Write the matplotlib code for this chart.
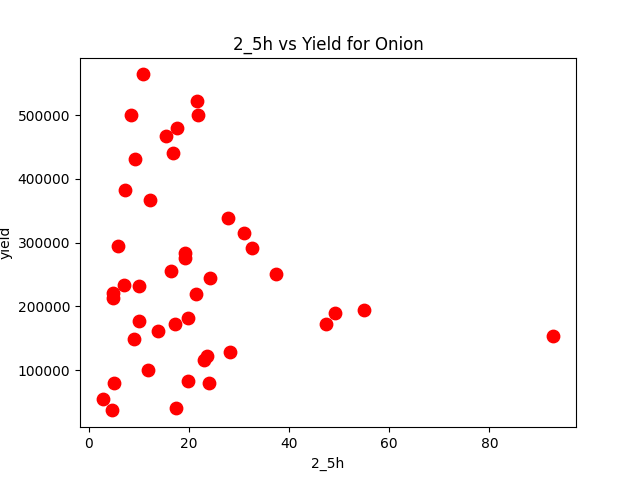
import matplotlib
matplotlib.use('Agg')
import matplotlib.pyplot as plt

x_2_5h = [10.9, 21.6, 8.4, 21.8, 17.6, 15.4, 16.8, 9.2, 7.2, 12.2, 27.8, 31.0, 32.6,
          5.8, 19.2, 19.2, 16.4, 37.4, 24.2, 7.0, 10.0, 4.8, 4.8, 21.4, 10.0, 19.8,
          17.2, 13.8, 47.4, 49.2, 55.0, 92.8, 9.0, 28.2, 23.6, 23.0, 11.8, 19.8,
          5.0, 24.0, 2.8, 17.4, 4.6]
yield_vals = [564000, 523000, 500000, 500000, 480000, 467000, 440000, 431000, 382000,
              367000, 338000, 315000, 291000, 295000, 284000, 276000, 255000, 251000,
              244000, 233000, 232000, 221000, 213000, 219000, 178000, 182000, 172000,
              161000, 172000, 189000, 194000, 153000, 149000, 128000, 122000, 116000,
              100000, 83000, 80000, 80000, 55000, 40000, 37000]

fig, ax = plt.subplots(figsize=(6.4, 4.8), dpi=100)
ax.scatter(x_2_5h, yield_vals, color='red', s=80)
ax.set_title('2_5h vs Yield for Onion')
ax.set_xlabel('2_5h')
ax.set_ylabel('yield')
plt.savefig('out.png')
plt.close('all')
